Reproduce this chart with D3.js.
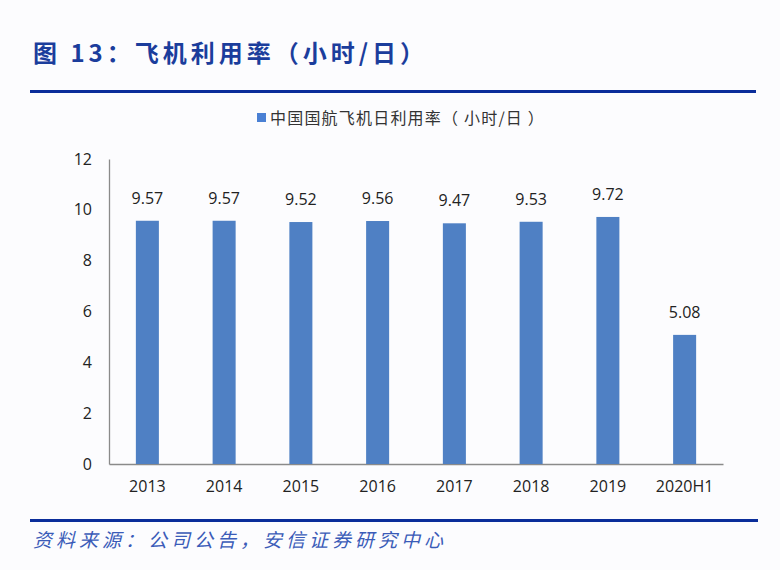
<!DOCTYPE html>
<html>
<head>
<meta charset="utf-8">
<script src="https://cdn.jsdelivr.net/npm/d3@7"></script>
<style>
    body { margin: 0; background: #fcfcfe; }
    svg { display: block; }
</style>
</head>
<body>
<div id="chart"></div>
<script>
// data
const years = ['2013', '2014', '2015', '2016', '2017', '2018', '2019', '2020H1'];
const hours = [9.57, 9.57, 9.52, 9.56, 9.47, 9.53, 9.72, 5.08];
const yTicks = [0, 2, 4, 6, 8, 10, 12];

const titleText = '图 13：飞机利用率（小时/日）';
const legendText = '中国国航飞机日利用率（ 小时/日 ）';
const sourceText = '资料来源：公司公告，安信证券研究中心';

const width = 780, height = 570;
const margin = {top: 159, right: 57, bottom: 106, left: 109};

let svg = d3.select('#chart').append('svg')
    .attr('width', width)
    .attr('height', height)
    .style('font-family', '"Noto Sans CJK SC", "Open Sans", sans-serif');

svg.append('rect')
    .attr('width', width).attr('height', height)
    .attr('fill', '#fcfcfe');

// title + rules
svg.append('text')
    .attr('x', 33).attr('y', 62)
    .attr('fill', '#1b3d9c')
    .attr('font-size', 24)
    .attr('font-weight', 'bold')
    .attr('letter-spacing', 4)
    .text(titleText);

svg.append('rect')
    .attr('x', 30).attr('y', 90)
    .attr('width', 726).attr('height', 3)
    .attr('fill', '#0a2d9a');

svg.append('rect')
    .attr('x', 30).attr('y', 519)
    .attr('width', 728).attr('height', 3)
    .attr('fill', '#0a2d9a');

svg.append('text')
    .attr('x', 33).attr('y', 547)
    .attr('fill', '#3a5bb8')
    .attr('font-size', 19)
    .attr('font-style', 'italic')
    .attr('letter-spacing', 4)
    .text(sourceText);

// legend
svg.append('rect')
    .attr('x', 257).attr('y', 113)
    .attr('width', 9).attr('height', 9)
    .attr('fill', '#4a80d4');

svg.append('text')
    .attr('x', 270).attr('y', 124)
    .attr('fill', '#333')
    .attr('font-size', 16)
    .attr('letter-spacing', 1.2)
    .text(legendText);

// scales
let x = d3.scaleBand()
    .domain(years)
    .range([margin.left, width - margin.right])
    .paddingInner(0.7)
    .paddingOuter(0.35);

let y = d3.scaleLinear()
    .domain([0, 12])
    .range([height - margin.bottom, margin.top]);

// axes
let yAxis = svg.append('g')
    .attr('transform', `translate(${margin.left},0)`)
    .call(d3.axisLeft(y).tickValues(yTicks).tickSize(0).tickPadding(17));

let xAxis = svg.append('g')
    .attr('transform', `translate(0,${height - margin.bottom})`)
    .call(d3.axisBottom(x).tickSize(0).tickPadding(17));

[yAxis, xAxis].forEach(g => {
    g.select('.domain').attr('stroke', '#8a8a8a').attr('stroke-width', 1.3);
    g.selectAll('text')
        .attr('fill', '#222')
        .attr('font-size', 16)
        .style('font-family', '"Open Sans", sans-serif');
});

// bars
svg.selectAll('.bar')
    .data(hours)
    .enter().append('rect')
    .attr('class', 'bar')
    .attr('x', (d, i) => x(years[i]))
    .attr('y', d => y(d))
    .attr('width', x.bandwidth())
    .attr('height', d => y(0) - y(d))
    .attr('fill', '#4f80c4');

// labels
svg.selectAll('.label')
    .data(hours)
    .enter().append('text')
    .attr('class', 'label')
    .attr('x', (d, i) => x(years[i]) + x.bandwidth() / 2)
    .attr('y', d => y(d) - 17)
    .attr('text-anchor', 'middle')
    .attr('fill', '#222')
    .attr('font-size', 16)
    .style('font-family', '"Open Sans", sans-serif')
    .text(d => d.toFixed(2));
</script>
</body>
</html>
